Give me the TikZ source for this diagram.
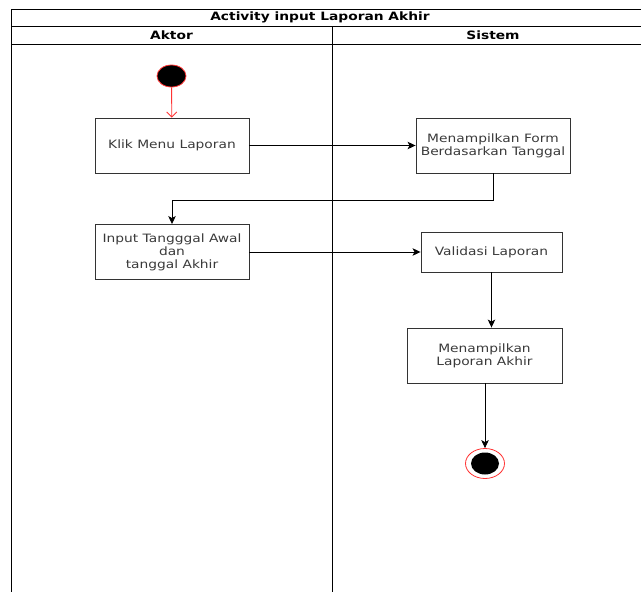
\documentclass[tikz,border=0pt]{standalone}
\usepackage{fontspec}
\setmainfont[FakeStretch=1.2]{DejaVu Sans}
\usetikzlibrary{arrows.meta,positioning,shapes.geometric}
\definecolor{boxline}{HTML}{333333}
\definecolor{txt}{HTML}{3A3A3A}
\definecolor{mark}{HTML}{FF3333}
\tikzset{
  act/.style={draw=boxline, line width=0.9pt, fill=white, align=center,
    text=txt, font=\fontsize{11.5}{13}\selectfont, inner sep=0pt},
  lane/.style={draw=black, line width=1pt},
  flow/.style={draw=black, line width=0.9pt, -{Stealth[length=8pt,width=7.5pt,inset=2pt]}},
  startflow/.style={draw=mark, line width=0.9pt, -{Straight Barb[length=5pt,width=10pt]}},
  hdr/.style={font=\bfseries\fontsize{11.5}{13}\selectfont, text=black, inner sep=0pt},
}
\begin{document}
\begin{tikzpicture}[x=1pt,y=-1pt]
\useasboundingbox (0,0) rectangle (641,592);

% swimlane frame
\draw[lane] (11,592) -- (11,9) -- (641,9);
\draw[lane] (11,26) -- (641,26);
\draw[lane] (11,44) -- (641,44);
\draw[lane] (332,26) -- (332,592);
\node[hdr] (title) at (320,17.5) {Activity input Laporan Akhir};
\node[hdr] (laneA) at (171.5,35.5) {Aktor};
\node[hdr] (laneS) at (493,35.5) {Sistem};

% start and end
\node[draw=mark, fill=black, line width=0.8pt, ellipse, minimum width=29pt, minimum height=22pt, inner sep=0pt] (start) at (171.5,76) {};
\node[draw=mark, fill=white, line width=0.8pt, ellipse, minimum width=39pt, minimum height=30pt, inner sep=0pt] (endo) at (485,463.5) {};
\node[fill=black, ellipse, minimum width=28pt, minimum height=22pt, inner sep=0pt] (endi) at (485,463.5) {};

% activities
\node[act, minimum width=154pt, minimum height=55pt] (klik) at (172,145.5) {Klik Menu Laporan};
\node[act, minimum width=154pt, minimum height=55pt] (input) at (172,252) {Input Tangggal Awal\\dan\\tanggal Akhir};
\node[act, minimum width=154pt, minimum height=55pt] (form) at (493,145.5) {Menampilkan Form\\Berdasarkan Tanggal};
\node[act, minimum width=141pt, minimum height=40pt] (valid) at (491.5,252) {Validasi Laporan};
\node[act, minimum width=155pt, minimum height=55pt] (hasil) at (484.5,355.5) {Menampilkan\\Laporan Akhir};

% flows
\coordinate (bendR) at (493,200);
\coordinate (bendL) at (172,200);
\draw[startflow] (start) -- (klik);
\draw[flow] (klik) -- (form);
\draw[flow] (form.south) -- (bendR) -- (bendL) -- (input.north);
\draw[flow] (input.east) -- (valid.west);
\draw[flow] (valid.south) -- (valid.south |- hasil.north);
\draw[flow] (485,383) -- (endo.north);
\end{tikzpicture}
\end{document}
